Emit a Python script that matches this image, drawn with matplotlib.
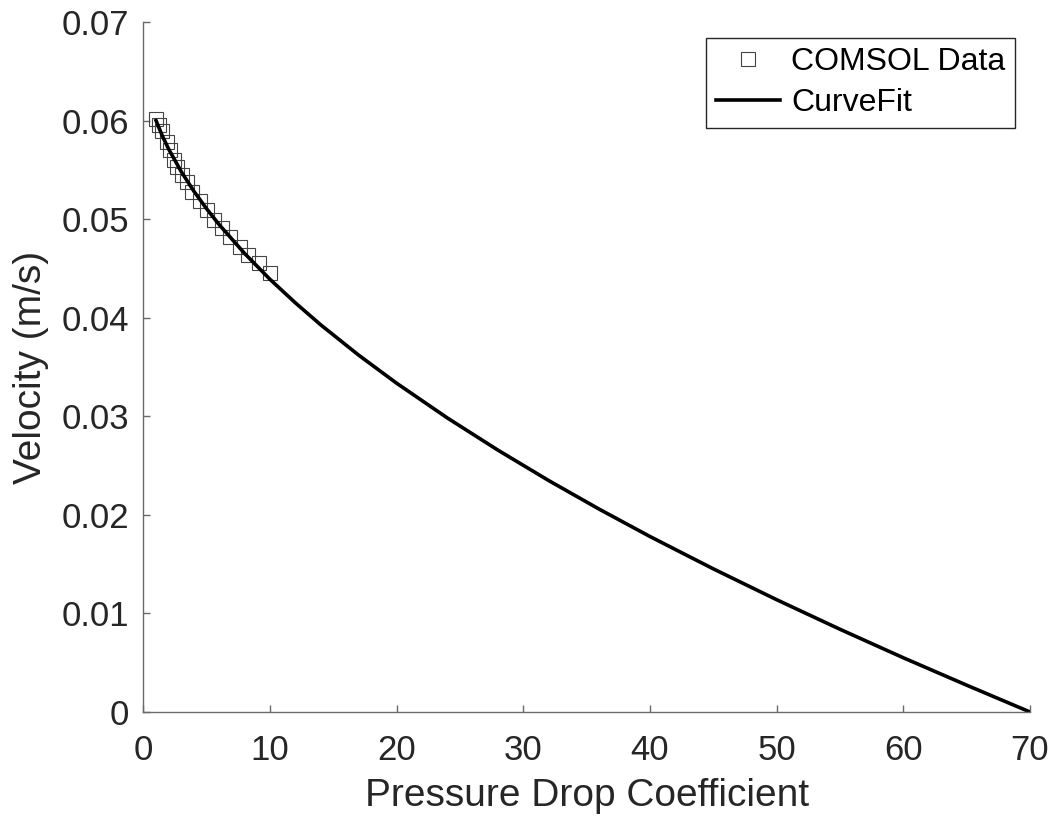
import numpy as np
import matplotlib.pyplot as plt

plt.rcParams['font.family'] = ['Liberation Sans', 'DejaVu Sans']

# COMSOL samples
data_x = [1.0, 1.25, 1.5, 1.85, 2.1, 2.4, 2.65, 3.05, 3.45, 3.85,
          4.5, 5.0, 5.55, 6.2, 6.85, 7.65, 8.3, 9.1, 10.0]
data_v = [0.0602, 0.0595, 0.0589, 0.0578, 0.0570, 0.0560, 0.0553, 0.0545,
          0.0538, 0.0528, 0.0518, 0.0509, 0.0499, 0.0491, 0.0482, 0.0472,
          0.0464, 0.0455, 0.0445]

# curve fit line
fit_x = [1, 1.5, 2, 3, 4, 5, 6, 8, 10, 12, 14, 17, 20, 24, 28, 32, 36,
         40, 45, 50, 55, 60, 65, 70]
fit_v = [0.06000, 0.05844, 0.05710, 0.05480, 0.05281, 0.05104, 0.04942,
         0.04651, 0.04389, 0.04151, 0.03928, 0.03620, 0.03335, 0.02983,
         0.02656, 0.02348, 0.02057, 0.01780, 0.01452, 0.01139, 0.00839,
         0.00550, 0.00272, 0.0]

axis_col = '#6a6a6a'
text_col = '#262626'

fig = plt.figure(figsize=(10.58, 8.21), dpi=100)
ax = fig.add_axes([0.1355, 0.1328, 0.838, 0.8404])

ax.plot(data_x, data_v, 's', mfc='none', mec='#444444', mew=0.8,
        ms=10.5, label='COMSOL Data')
ax.plot(fit_x, fit_v, '-', color='k', lw=2.6, label='CurveFit')

ax.set_xlim(0, 70)
ax.set_ylim(0, 0.07)
ax.set_xticks(np.arange(0, 71, 10))
ax.set_yticks(np.arange(0, 0.0701, 0.01))
ax.set_yticklabels(['0', '0.01', '0.02', '0.03', '0.04', '0.05', '0.06', '0.07'])

for s in ['top', 'right']:
    ax.spines[s].set_visible(False)
for s in ['left', 'bottom']:
    ax.spines[s].set_color(axis_col)
    ax.spines[s].set_linewidth(1.0)
ax.tick_params(direction='in', length=5, width=1.0, color=axis_col,
               labelsize=25, labelcolor=text_col)
ax.tick_params(axis='x', pad=16)
ax.tick_params(axis='y', pad=10)

ax.set_xlabel('Pressure Drop Coefficient', fontsize=28, color=text_col, labelpad=8)
ax.set_ylabel('Velocity (m/s)', fontsize=28, color=text_col, labelpad=9)

leg = ax.legend(loc='upper right', bbox_to_anchor=(0.983, 0.977), fontsize=23,
                frameon=True, fancybox=False, framealpha=1, edgecolor='#262626',
                handlelength=2.0, handletextpad=0.35, borderpad=0.3,
                labelspacing=0.33, borderaxespad=0)
leg.get_frame().set_linewidth(1.0)

fig.savefig('out.png', dpi=100)
